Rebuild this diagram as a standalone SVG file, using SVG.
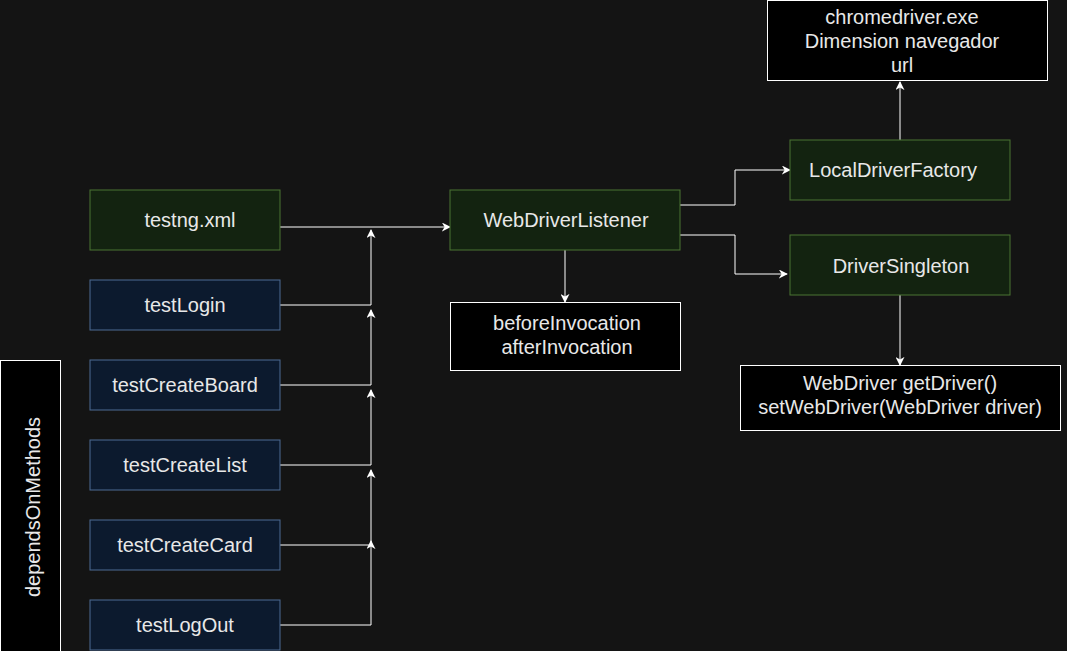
<svg xmlns="http://www.w3.org/2000/svg" width="1067" height="651" viewBox="0 0 1067 651">
<defs>
<style>
.g{fill:#132310;stroke:#4b7532;stroke-width:1}
.b{fill:#0c1a2e;stroke:#4c6b93;stroke-width:1}
.k{fill:#000000;stroke:#ffffff;stroke-width:1}
text{font-family:"Liberation Sans",Arial,sans-serif;font-size:20px;fill:#e8e8e8;text-anchor:middle}
.c{fill:none;stroke:#ffffff;stroke-width:1}
</style>
<marker id="ar" viewBox="0 0 10 10" refX="9" refY="5" markerWidth="9" markerHeight="9" markerUnits="userSpaceOnUse" orient="auto">
<path d="M0,0 L10,5 L0,10 L3,5 Z" fill="#ffffff"/>
</marker>
</defs>
<rect width="1067" height="651" fill="#141414"/>
<g id="connectors">
<path class="c" d="M280,227 L450,227" marker-end="url(#ar)"/>
<path class="c" d="M280,305 L371,305 L371,230" marker-end="url(#ar)"/>
<path class="c" d="M280,385 L371,385 L371,310" marker-end="url(#ar)"/>
<path class="c" d="M280,465 L371,465 L371,390" marker-end="url(#ar)"/>
<path class="c" d="M280,545 L371,545 L371,470" marker-end="url(#ar)"/>
<path class="c" d="M280,625 L371,625 L371,541" marker-end="url(#ar)"/>
<path class="c" d="M680,205 L735,205 L735,170 L790,170" marker-end="url(#ar)"/>
<path class="c" d="M680,235 L735,235 L735,274 L787,274" marker-end="url(#ar)"/>
<path class="c" d="M565,250 L565,302" marker-end="url(#ar)"/>
<path class="c" d="M900,140 L900,82" marker-end="url(#ar)"/>
<path class="c" d="M900,295 L900,365" marker-end="url(#ar)"/>
</g>
<g id="testng"><rect class="g" x="90" y="190" width="190" height="60"/><text x="190" y="227">testng.xml</text></g>
<g id="testLogin"><rect class="b" x="90" y="280" width="190" height="50"/><text x="185" y="312">testLogin</text></g>
<g id="testCreateBoard"><rect class="b" x="90" y="360" width="190" height="50"/><text x="185" y="392">testCreateBoard</text></g>
<g id="testCreateList"><rect class="b" x="90" y="440" width="190" height="50"/><text x="185" y="472">testCreateList</text></g>
<g id="testCreateCard"><rect class="b" x="90" y="520" width="190" height="50"/><text x="185" y="552">testCreateCard</text></g>
<g id="testLogOut"><rect class="b" x="90" y="600" width="190" height="50"/><text x="185" y="632">testLogOut</text></g>
<g id="dependsOnMethods"><rect class="k" x="0.5" y="360.5" width="60" height="300"/><text transform="translate(40,507) rotate(-90)" x="0" y="0">dependsOnMethods</text></g>
<g id="WebDriverListener"><rect class="g" x="450" y="190" width="230" height="60"/><text x="566" y="227">WebDriverListener</text></g>
<g id="invocation"><rect class="k" x="450.5" y="302.5" width="230" height="68"/><text x="567" y="330">beforeInvocation</text><text x="567" y="354">afterInvocation</text></g>
<g id="LocalDriverFactory"><rect class="g" x="790" y="140" width="220" height="60"/><text x="893" y="177">LocalDriverFactory</text></g>
<g id="DriverSingleton"><rect class="g" x="790" y="235" width="220" height="60"/><text x="901" y="273">DriverSingleton</text></g>
<g id="chromedriver"><rect class="k" x="767.5" y="0.5" width="280" height="80"/><text x="902" y="24">chromedriver.exe</text><text x="902" y="48">Dimension navegador</text><text x="902" y="72">url</text></g>
<g id="getDriver"><rect class="k" x="740.5" y="365.5" width="320" height="65"/><text x="900" y="390">WebDriver getDriver()</text><text x="900" y="414">setWebDriver(WebDriver driver)</text></g>
</svg>
